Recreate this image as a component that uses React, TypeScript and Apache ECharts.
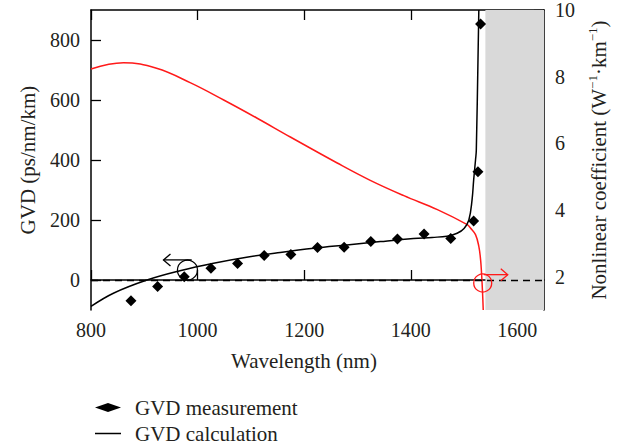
import React, { useEffect, useRef } from "react";
import * as echarts from "echarts";

// GVD measurement (diamonds), left axis, ps/nm/km
const measWavelength = [875, 925, 975, 1025, 1075, 1125, 1175, 1225, 1275, 1325, 1375, 1425, 1475, 1518, 1526, 1531];
const measGVD = [-69, -22, 11, 39, 55, 82, 85, 108, 109, 128, 137, 153, 138, 197, 361, 853];

// GVD calculation (black curve), left axis
const calcWavelength = [800, 842, 905, 967, 1030, 1092, 1155, 1218, 1280, 1343, 1405, 1440, 1468, 1487, 1500, 1509, 1515, 1518, 1521.5, 1523, 1527.7];
const calcGVD = [-88, -44, 0, 31, 56, 76, 92, 106, 117, 128, 138, 142, 146, 156, 172, 200, 267, 333, 400, 433, 900];

// Nonlinear coefficient (red curve), right axis, W^-1 km^-1
const nlWavelength = [800, 861, 923, 986, 1049, 1111, 1174, 1262, 1324, 1387, 1450, 1506, 1512, 1521.5, 1527.7, 1531, 1532.8, 1534.7, 1536];
const nlValue = [8.23, 8.42, 8.25, 7.82, 7.3, 6.76, 6.19, 5.41, 4.89, 4.43, 4.01, 3.56, 3.46, 3.26, 2.91, 2.51, 2.11, 1.52, 1.0];

// Shaded band (wavelength range)
const shadeRange = [1540, 1650];

// Tick values
const xTicks = [800, 1000, 1200, 1400, 1600];
const gvdTicks = [0, 200, 400, 600, 800];
const nlTicks = [2, 4, 6, 8, 10];

const legendNames = ["GVD measurement", "GVD calculation"];

const FONT = "Liberation Serif";
const TXT = "#231f20";

export default function App() {
  const ref = useRef<HTMLDivElement>(null);
  useEffect(() => {
    if (!ref.current) return;
    const chart = echarts.init(ref.current, undefined, { renderer: "svg" });
    const axisLine = { show: true, lineStyle: { color: "#000", width: 1.5 } };
    const tick = (vals: number[]) => ({
      show: true,
      inside: true,
      length: 10,
      customValues: vals,
      lineStyle: { color: "#000", width: 1.3 },
    });
    const labelStyle = { fontFamily: FONT, fontSize: 20, color: TXT, formatter: (v: number) => String(v) };
    const legendText = { fontFamily: FONT, fontSize: 21, color: TXT, padding: [0, 0, 0, 9] };
    const option: any = {
      animation: false,
      grid: { left: 91, right: 75, top: 10, bottom: 134, containLabel: false },
      legend: [
        {
          left: 90,
          top: 392,
          itemWidth: 26,
          itemHeight: 9,
          symbolKeepAspect: true,
          data: [{ name: legendNames[0], icon: "diamond", itemStyle: { color: "#000", opacity: 1 } }],
          textStyle: legendText,
        },
        {
          left: 90,
          top: 418,
          itemWidth: 26,
          itemHeight: 1.5,
          data: [{ name: legendNames[1], icon: "rect", itemStyle: { color: "#000" } }],
          textStyle: legendText,
        },
      ],
      xAxis: [
        {
          type: "value",
          position: "bottom",
          min: 800,
          max: 1650,
          axisLine,
          axisTick: tick(xTicks),
          splitLine: { show: false },
          axisLabel: { ...labelStyle, margin: 10, customValues: xTicks },
          name: "Wavelength (nm)",
          nameLocation: "middle",
          nameGap: 40,
          nameTextStyle: { fontFamily: FONT, fontSize: 21, color: TXT, padding: [0, 27, 0, 0] },
        },
        {
          type: "value",
          position: "top",
          min: 800,
          max: 1650,
          axisLine,
          axisTick: tick(xTicks),
          splitLine: { show: false },
          axisLabel: { show: false },
        },
      ],
      yAxis: [
        {
          type: "value",
          position: "left",
          min: -100,
          max: 900,
          axisLine,
          axisTick: tick(gvdTicks),
          splitLine: { show: false },
          axisLabel: { ...labelStyle, margin: 11, customValues: gvdTicks },
          name: "GVD (ps/nm/km)",
          nameLocation: "middle",
          nameGap: 53,
          nameTextStyle: { fontFamily: FONT, fontSize: 21, color: TXT },
        },
        {
          type: "value",
          position: "right",
          min: 1,
          max: 10,
          axisLine,
          axisTick: tick(nlTicks),
          splitLine: { show: false },
          axisLabel: { ...labelStyle, margin: 11, customValues: nlTicks },
          name: "{a|Nonlinear coefficient (W}{s|−1}{a|·km}{s|−1}{a|)}",
          nameLocation: "middle",
          nameGap: 30,
          nameTextStyle: {
            fontFamily: FONT,
            fontSize: 21,
            color: TXT,
            rich: {
              a: { fontFamily: FONT, fontSize: 21, color: TXT, lineHeight: 26, verticalAlign: "middle" },
              s: { fontFamily: FONT, fontSize: 13, color: TXT, lineHeight: 26, verticalAlign: "top", padding: [0, 0, 10, 0] },
            },
          },
        },
      ],
      series: [
        {
          name: "Nonlinear coefficient",
          type: "line",
          xAxisIndex: 0,
          yAxisIndex: 1,
          data: nlWavelength.map((w, i) => [w, nlValue[i]]),
          showSymbol: false,
          symbol: "none",
          smooth: 0.4,
          lineStyle: { color: "#ff1a1a", width: 1.5 },
          z: 3,
          markArea: {
            silent: true,
            itemStyle: { color: "#d9d9d9" },
            data: [[{ xAxis: shadeRange[0] }, { xAxis: shadeRange[1] }]],
          },
        },
        {
          name: legendNames[1],
          type: "line",
          xAxisIndex: 0,
          yAxisIndex: 0,
          data: calcWavelength.map((w, i) => [w, calcGVD[i]]),
          showSymbol: false,
          symbol: "none",
          smooth: 0.4,
          lineStyle: { color: "#000", width: 1.5 },
          itemStyle: { color: "#000" },
          z: 4,
          markLine: {
            silent: true,
            symbol: "none",
            label: { show: false },
            lineStyle: { color: "#000", width: 1.3, type: [7, 5] },
            data: [{ yAxis: 0 }],
          },
        },
        {
          name: legendNames[0],
          type: "scatter",
          xAxisIndex: 0,
          yAxisIndex: 0,
          data: measWavelength.map((w, i) => [w, measGVD[i]]),
          symbol: "diamond",
          symbolSize: 11,
          symbolKeepAspect: true,
          itemStyle: { color: "#000", opacity: 1 },
          z: 5,
        },
      ],
    };
    chart.setOption(option);

    const px = (x: number, y: number, yi: number) =>
      chart.convertToPixel({ xAxisIndex: 0, yAxisIndex: yi }, [x, y]) as number[];

    // black annotation: circle with arrow pointing left (GVD -> left axis)
    const bc = px(981, 33, 0);
    const ba1 = px(989, 67, 0);
    const ba0 = px(936, 67, 0);
    // red annotation: circle with arrow pointing right (nonlinear -> right axis)
    const rc = px(1535, 1.81, 1);
    const ra0 = px(1537, 2.06, 1);
    const ra1 = px(1582, 2.06, 1);

    chart.setOption({
      graphic: [
        { type: "circle", shape: { cx: bc[0], cy: bc[1], r: 10 }, style: { fill: "none", stroke: "#000", lineWidth: 1.3 }, z: 10 },
        { type: "polyline", shape: { points: [ba1, ba0] }, style: { fill: "none", stroke: "#000", lineWidth: 1.3 }, z: 10 },
        { type: "polyline", shape: { points: [[ba0[0] + 7, ba0[1] - 6], ba0, [ba0[0] + 7, ba0[1] + 6]] }, style: { fill: "none", stroke: "#000", lineWidth: 1.3 }, z: 10 },
        { type: "circle", shape: { cx: rc[0], cy: rc[1], r: 9 }, style: { fill: "none", stroke: "#ff1a1a", lineWidth: 1.3 }, z: 10 },
        { type: "polyline", shape: { points: [ra0, ra1] }, style: { fill: "none", stroke: "#ff1a1a", lineWidth: 1.3 }, z: 10 },
        { type: "polyline", shape: { points: [[ra1[0] - 7, ra1[1] - 6], ra1, [ra1[0] - 7, ra1[1] + 6]] }, style: { fill: "none", stroke: "#ff1a1a", lineWidth: 1.3 }, z: 10 },
      ],
    });

    return () => chart.dispose();
  }, []);
  return (
    <div
      ref={ref}
      style={{ position: "fixed", left: 0, top: 0, width: 619, height: 444, background: "#fff" }}
    />
  );
}
